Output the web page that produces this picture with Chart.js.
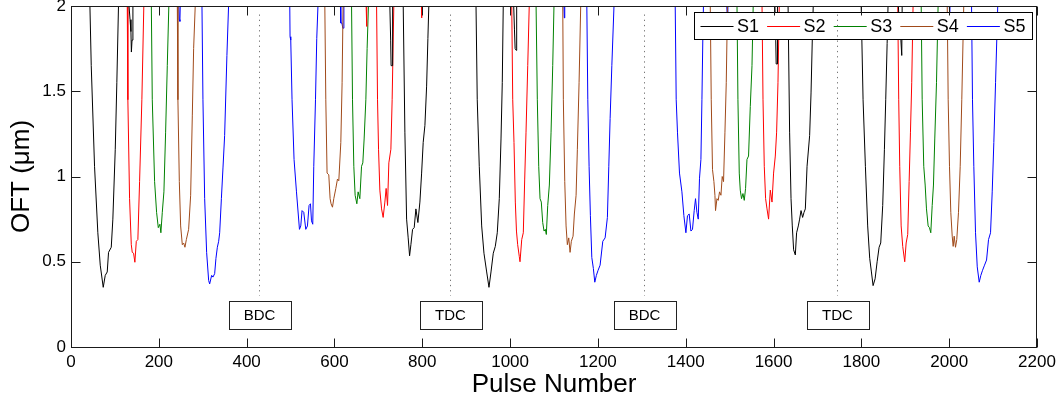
<!DOCTYPE html>
<html><head><meta charset="utf-8">
<script src="https://cdn.jsdelivr.net/npm/chart.js@4.4.1/dist/chart.umd.min.js"></script>
<style>html,body{margin:0;padding:0;background:#fff;}canvas{display:block;}</style>
</head><body>
<canvas id="c" width="1060" height="400"></canvas>
<script>
// ---------------- data ----------------
const seriesNames = ['S1', 'S2', 'S3', 'S4', 'S5'];
const seriesColors = ['#000000', '#ff0000', '#008000', '#a04a1a', '#0000ff'];

const s1x = [42.9,46.1,53.6,61.1,66.6,73.4,78,82.5,85.5,91.7,95.3,100.8,104.4,108.3, 120,
  131.5,134.5,136.5,137.5,139,141, 400,
  726,728,729,731.5,732.5, 745,
  756.5,760.4,764.3,767.9,771.1,774.1,777.9,781.6,785.5,790,794.6,798.5,802.1,806,809.9,812.8,815.1, 900,
  922.3,925.2,929.8,935.3,940.5,946.7,951.9,956.5,961.7,966.3,970.8,975.4,979.3,982.2,984.5, 1000,
  1008,1010,1011.5,1014,1015, 1300,
  1603,1605,1606,1608,1609, 1620,
  1633,1636.6,1639.8,1642.7,1645.7,1649.6,1652.5,1656.4,1659.4,1662.6,1666.2,1669.4,1672.4,1676.3,1682.2,1685.4,1688.3,1690.6, 1750,
  1799.4,1803.9,1809.2,1814.4,1819,1822.9,1826.7,1831.3,1835.9,1840.4,1844.1,1848.6,1852.5,1855.5,1858.7,1860.9, 1870,
  1884,1887,1890,1892,1893];
const s1y = [2.02,1.65,1.06,0.67,0.48,0.35,0.42,0.44,0.555,0.585,0.75,1.16,1.55,2.02, null,
  2.02,1.92,1.85,1.73,1.8,2.02, null,
  2.02,1.8,1.65,1.65,2.02, null,
  2.02,1.26,0.75,0.64,0.535,0.60,0.69,0.70,0.81,0.73,0.85,1.02,1.2,1.30,1.53,1.81,2.02, null,
  2.02,1.45,1.06,0.71,0.55,0.44,0.35,0.44,0.55,0.59,0.67,0.87,1.22,1.55,2.02, null,
  2.02,1.86,1.75,1.74,2.02, null,
  2.02,1.8,1.66,1.66,2.02, null,
  2.02,1.26,0.87,0.71,0.57,0.54,0.67,0.71,0.75,0.80,0.76,0.79,0.81,1.06,1.24,1.49,1.81,2.02, null,
  2.02,1.45,1.06,0.71,0.52,0.44,0.36,0.40,0.50,0.585,0.61,0.83,1.16,1.45,1.78,2.02, null,
  2.02,1.85,1.8,1.71,2.02];

const s2x = [128.1,129.5,133.4,137.3,139.5,142.5,145.5,148.7,152.3,156.2,161.4,166, 400,
  672,673,674, 685,
  695.9,698.1,700.4,703.4,707.3,710.9,714.8,717.7,720.9,723.9,728.5,731.4,735.3, 760,
  798,798.5,799, 900,
  1003.7,1006,1008.9,1011.9,1014.5,1017.3,1021,1022.6,1026.5,1030.1,1033.3,1036.3,1040.2,1043.8, 1300,
  1573.7,1576,1578.9,1581.9,1585.1,1588.7,1592.6,1596.5,1600.1,1604,1607,1610.1,1613.1, 1750,
  1882.8,1885.1,1887.4,1890.6,1894.2,1898.8,1902,1905.6,1908.8,1911.8,1914.7,1917.9];
const s2y = [2.02,1.45,0.87,0.60,0.555,0.55,0.497,0.62,0.63,0.97,1.45,2.02, null,
  2.02,1.88,2.02, null,
  2.02,1.45,1.16,0.92,0.81,0.76,0.85,0.93,0.83,1.08,1.16,1.45,2.02, null,
  2.02,1.93,2.02, null,
  2.02,1.45,1.2,0.85,0.68,0.6,0.53,0.50,0.63,0.67,0.985,1.26,1.65,2.02, null,
  2.02,1.45,1.06,0.87,0.81,0.75,0.92,0.85,1.02,1.12,1.26,1.55,2.02, null,
  2.02,1.45,1.06,0.71,0.59,0.50,0.61,0.66,0.97,1.26,1.55,2.02];

const s3x = [182.9,185.1,190.4,194.9,198.8,202.5,204.7,207.9,211.6,215.5,219.3,223, 400,
  638.9,641.1,644.1,647.1,651,653.9,657.8,661.7,664.6,667.6,671.5,674.4,677.6, 900,
  1059.1,1062,1065.2,1068.2,1071.1,1074.3,1077.3,1080.3,1082.5,1085.7,1089.4,1093.3,1097.1,1100.1, 1300,
  1516.7,1518.9,1521.9,1524.2,1527.1,1530.3,1533.3,1536.3,1539.5,1543.1,1547,1550.9,1553.8, 1700,
  1936.2,1938.5,1942.1,1945.3,1948.3,1952.1,1955.1,1958.1,1961.3,1964.2,1967.2,1971.1,1974.9];
const s3y = [2.02,1.45,0.97,0.79,0.70,0.72,0.67,0.79,0.91,1.26,1.65,2.02, null,
  2.02,1.45,1.06,0.89,0.84,0.91,0.87,1.06,1.08,1.22,1.45,1.75,2.02, null,
  2.02,1.45,1.06,0.87,0.85,0.73,0.68,0.69,0.66,0.83,0.95,1.26,1.65,2.02, null,
  2.02,1.45,1.02,0.92,0.87,0.90,0.86,0.93,1.10,1.12,1.41,1.65,2.02, null,
  2.02,1.45,1.06,0.95,0.81,0.71,0.70,0.67,0.83,0.95,1.22,1.55,2.02];

const s4x = [242.1,243.5,246.7,249.7,253.5,256.5,259.5,262.7,267.9,272.5,276.3,279.3,283.2, 400,
  578,580.3,583.2,587.1,590.1,592.3,595.5,598.5,603.1,606.9,609.9,614.5,617.4,619.7, 900,
  1119.9,1121.3,1124.5,1127.5,1130.4,1133.6,1136.6,1139.5,1143.4,1146.4,1150.3,1153.2,1157.1,1161, 1300,
  1455.8,1458.1,1461,1464.2,1466.5,1467.9,1471.1,1474,1477,1480.2,1483.1,1486.1,1489.3,1492.3,1495.2, 1700,
  1995.5,1997.7,2000.7,2003.7,2006.9,2009.1,2011.4,2014.4,2017.3,2021.2,2025.1,2028.7,2033.3];
const s4y = [2.02,1.45,0.97,0.71,0.60,0.61,0.585,0.63,0.69,0.89,1.36,1.75,2.02, null,
  2.02,1.45,1.02,1.01,0.87,0.84,0.82,0.87,0.93,0.985,0.975,1.2,1.55,2.02, null,
  2.02,1.45,0.97,0.71,0.60,0.64,0.555,0.62,0.65,0.78,0.89,1.16,1.55,2.02, null,
  2.02,1.45,1.04,0.97,0.89,0.80,0.87,0.86,0.91,0.89,1.0,0.97,1.26,1.55,2.02, null,
  2.02,1.45,1.06,0.79,0.65,0.59,0.65,0.585,0.63,0.79,1.06,1.45,2.02];

const s5x = [245.5,246.5,248,249, 270,
  298.2,300.5,304.4,308.9,313.5,315.8,320.3,323.3,327.2,330.1,333.3,336.3,338.6,342.5,346.1,349.9,355.1,359.1, 450,
  498.2,498.9,500.5,503.4,508,513.5,520.3,523.3,526.2,530.1,534.7,538.5,542.2,545.4,547.7,550.6,552.9,556.8,559.7,562.7, 590,
  613.5,614.5,617,619,621,621.5, 900,
  1122.5,1123.5,1124.5, 1150,
  1174.7,1177,1179.9,1182.9,1186.1,1189.7,1192.9,1196.5,1200.4,1205,1211.1,1216.4,1221.6,1224.8,1227.8,1231.7,1236.9, 1300,
  1376,1378.3,1381.2,1385.8,1391.3,1395.8,1400.4,1404,1407.9,1411.8,1415.4,1419.3,1422.3,1425.5,1428.5,1431.4,1434.6,1436.9,1439.1,1440.5, 1470,
  1493,1494.5,1496, 1700,
  2000,2001,2002, 2020,
  2050.9,2053.1,2056.1,2060,2063.9,2068.4,2072.1,2076,2080.5,2085.1,2089.6,2094.2,2098,2101.7,2105.6,2110.8];
const s5y = [2.02,1.92,1.91,2.02, null,
  2.02,1.45,0.87,0.555,0.39,0.37,0.42,0.41,0.43,0.52,0.585,0.62,0.67,0.87,1.05,1.24,1.71,2.02, null,
  2.02,1.82,1.80,1.45,1.10,0.91,0.69,0.71,0.80,0.79,0.69,0.71,0.83,0.84,0.74,0.72,1.06,1.45,1.81,2.02, null,
  2.02,1.9,1.9,1.87,1.87,2.02, null,
  2.02,1.93,2.02, null,
  2.02,1.45,1.06,0.77,0.525,0.46,0.38,0.42,0.45,0.48,0.62,0.64,0.76,1.06,1.34,1.65,2.02, null,
  2.02,1.45,1.26,1.02,0.91,0.77,0.67,0.77,0.78,0.68,0.69,0.80,0.87,0.79,0.75,0.99,1.10,1.45,1.84,2.02, null,
  2.02,1.95,2.02, null,
  2.02,1.96,2.02, null,
  2.02,1.45,1.06,0.67,0.47,0.38,0.42,0.45,0.48,0.51,0.63,0.67,0.91,1.2,1.55,2.02];

const xTickValues = [0,200,400,600,800,1000,1200,1400,1600,1800,2000,2200];
const yTickValues = [0,0.5,1,1.5,2];
const markerX = [428, 864, 1306, 1745];
const markerLabels = ['BDC', 'TDC', 'BDC', 'TDC'];

// ---------------- build ----------------
const FONT = "'Liberation Sans', Arial, Helvetica, sans-serif";
function zip(xs, ys) {
  const n = Math.min(xs.length, ys.length);
  const out = [];
  for (let i = 0; i < n; i++) out.push({x: xs[i], y: ys[i]});
  return out;
}
const allX = [s1x, s2x, s3x, s4x, s5x];
const allY = [s1y, s2y, s3y, s4y, s5y];
const datasets = seriesNames.map((name, i) => ({
  label: name,
  data: zip(allX[i], allY[i]),
  borderColor: seriesColors[i],
  backgroundColor: seriesColors[i],
  borderWidth: 1,
  pointRadius: 0,
  tension: 0,
  spanGaps: false,
  fill: false
}));

const overlayPlugin = {
  id: 'overlay',
  afterDatasetsDraw(chart) {
    const {ctx, chartArea: a, scales: {x, y}} = chart;
    ctx.save();

    // legend box
    const lw = 338, lh = 27;
    const lx = Math.round(a.right - 5 - lw), ly = Math.round(a.top + 6);
    ctx.fillStyle = '#fff';
    ctx.fillRect(lx, ly, lw, lh);
    ctx.strokeStyle = '#000';
    ctx.lineWidth = 1;
    ctx.strokeRect(lx + 0.5, ly + 0.5, lw, lh);
    ctx.font = '18px ' + FONT;
    ctx.textBaseline = 'middle';
    ctx.textAlign = 'left';
    seriesNames.forEach((name, i) => {
      const sx = lx + 6.5 + i * 66.6;
      const cy = Math.round(ly + lh / 2) + 0.5;
      ctx.strokeStyle = seriesColors[i];
      ctx.lineWidth = 1;
      ctx.beginPath(); ctx.moveTo(sx, cy); ctx.lineTo(sx + 33, cy); ctx.stroke();
      ctx.fillStyle = '#000';
      ctx.fillText(name, sx + 36.5, cy + 1);
    });

    // BDC / TDC markers
    markerX.forEach((v, i) => {
      const px = Math.round(x.getPixelForValue(v)) + 0.5;
      ctx.strokeStyle = '#777';
      ctx.lineWidth = 1;
      ctx.setLineDash([1.3, 3.9]);
      ctx.beginPath();
      ctx.moveTo(px, y.getPixelForValue(1.95));
      ctx.lineTo(px, y.getPixelForValue(0.3));
      ctx.stroke();
      ctx.setLineDash([]);
      const bw = 62, bTop = Math.round(y.getPixelForValue(0.272)), bBot = Math.round(y.getPixelForValue(0.103));
      const bl = Math.round(px - bw / 2);
      ctx.fillStyle = '#fff';
      ctx.fillRect(bl, bTop, bw, bBot - bTop);
      ctx.strokeStyle = '#222';
      ctx.strokeRect(bl + 0.5, bTop + 0.5, bw, bBot - bTop);
      ctx.fillStyle = '#000';
      ctx.font = '15px ' + FONT;
      ctx.textAlign = 'center';
      ctx.textBaseline = 'middle';
      ctx.fillText(markerLabels[i], px, (bTop + bBot) / 2 + 1);
    });

    // frame
    ctx.strokeStyle = '#1a1a1a';
    ctx.lineWidth = 1;
    const L = Math.round(a.left) + 0.5, R = Math.round(a.right) - 0.5;
    const T = Math.round(a.top) + 0.5, B = Math.round(a.bottom) + 0.5;
    ctx.strokeRect(L, T, R - L, B - T);
    // inward ticks
    ctx.beginPath();
    xTickValues.forEach(v => {
      const px = Math.round(x.getPixelForValue(v)) + 0.5;
      ctx.moveTo(px, B); ctx.lineTo(px, B - 9);
      ctx.moveTo(px, T); ctx.lineTo(px, T + 9);
    });
    yTickValues.forEach(v => {
      const py = Math.round(y.getPixelForValue(v)) + 0.5;
      ctx.moveTo(L, py); ctx.lineTo(L + 9, py);
      ctx.moveTo(R, py); ctx.lineTo(R - 9, py);
    });
    ctx.stroke();
    ctx.restore();
  }
};

new Chart(document.getElementById('c'), {
  type: 'line',
  data: { datasets },
  plugins: [overlayPlugin],
  options: {
    responsive: false,
    animation: false,
    devicePixelRatio: 1,
    layout: { padding: { top: 6, right: 23, left: 0, bottom: 0 } },
    plugins: { legend: { display: false }, tooltip: { enabled: false } },
    scales: {
      x: {
        type: 'linear', min: 0, max: 2200,
        afterBuildTicks: s => { s.ticks = xTickValues.map(v => ({ value: v })); },
        afterFit: s => { s.height = 53; s.paddingLeft = 0; s.paddingRight = 0; },
        grid: { display: false, drawTicks: false },
        border: { display: false },
        ticks: { autoSkip: false, maxRotation: 0, padding: 5, color: '#000',
                 font: { family: FONT, size: 17 }, callback: v => String(v) },
        title: { display: true, text: 'Pulse Number', color: '#000',
                 font: { family: FONT, size: 26 }, padding: { top: 0, bottom: 0 } }
      },
      y: {
        type: 'linear', min: 0, max: 2,
        afterBuildTicks: s => { s.ticks = yTickValues.map(v => ({ value: v })); },
        afterFit: s => { s.width = 71; s.paddingTop = 0; s.paddingBottom = 0; },
        grid: { display: false, drawTicks: false },
        border: { display: false },
        ticks: { padding: 5, color: '#000', font: { family: FONT, size: 17 },
                 callback: v => String(v) },
        title: { display: true, text: 'OFT (μm)', color: '#000',
                 font: { family: FONT, size: 26 }, padding: { top: 6, bottom: 0 } }
      }
    }
  }
});
</script>
</body></html>
